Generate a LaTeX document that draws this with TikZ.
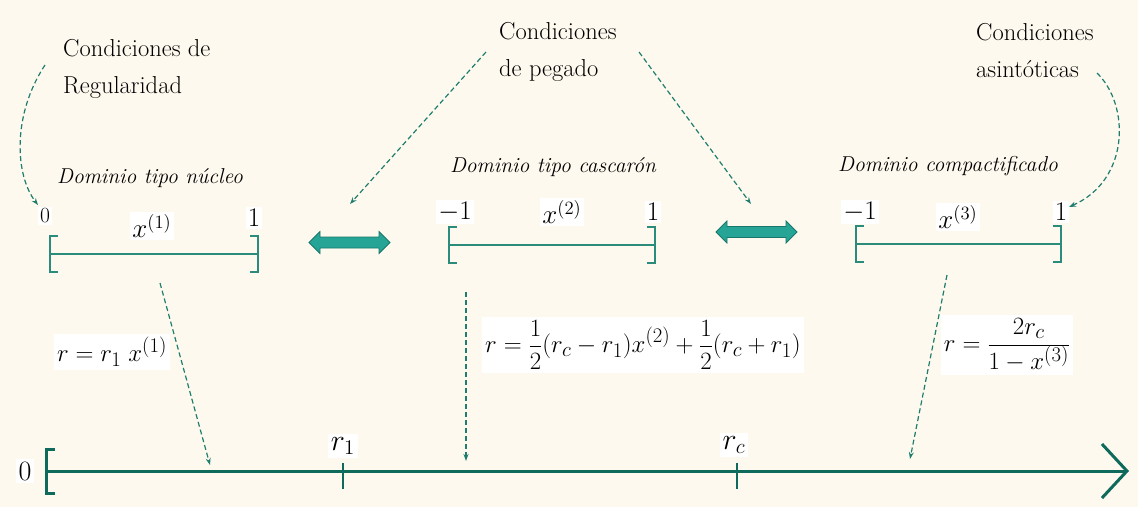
\documentclass[tikz,border=0pt]{standalone}
\usetikzlibrary{arrows.meta}
\definecolor{bgc}{HTML}{FEF9EE}
\definecolor{axisc}{HTML}{0E6B5C}
\definecolor{ivalc}{HTML}{2B8C7C}
\definecolor{dashc}{HTML}{1E7D6E}
\definecolor{dfillc}{HTML}{26A596}
\definecolor{dborderc}{HTML}{17776A}
\begin{document}
\begin{tikzpicture}[x=1pt,y=-1pt,
  mlab/.style={fill=white, inner sep=3pt, font=\fontsize{24.88}{29}\selectfont},
  tlab/.style={fill=white, inner sep=2pt, scale=1.45, font=\fontsize{20.74}{24}\selectfont},
  ilab/.style={fill=white, inner sep=1.6pt, scale=1.3, font=\fontsize{20.74}{24}\selectfont},
  cond/.style={align=left, inner sep=0pt, font=\fontsize{24.5}{37}\selectfont},
  dtitle/.style={inner sep=0pt, font=\fontsize{21.5}{25}\selectfont\itshape},
  ival/.style={draw=ivalc, line width=1.4pt},
  axisline/.style={draw=axisc, line width=3pt},
  dashar/.style={draw=dashc, line width=1.2pt, dash pattern=on 5pt off 3pt, -{Stealth[length=7pt,width=5pt]}},
  darrow/.style={draw=dborderc, fill=dfillc, line width=0.8pt}
]
\useasboundingbox (0,0) rectangle (1138,507);
\fill[bgc] (0,0) rectangle (1138,507);

% condition labels
\node[cond, anchor=west] (creg) at (63,69) {Condiciones de\\Regularidad};
\node[cond, anchor=west] (cpeg) at (499,52) {Condiciones\\de pegado};
\node[cond, anchor=west] (casi) at (976,51) {Condiciones\\asintóticas};

% titles
\node[dtitle] (t1) at (150,178) {Dominio tipo núcleo};
\node[dtitle] (t2) at (553,167) {Dominio tipo cascarón};
\node[dtitle] (t3) at (948,166) {Dominio compactificado};

% interval 1
\draw[ival] (58,236) -- (50,236) -- (50,272) -- (58,272);
\draw[ival] (50,254) -- (258,254);
\draw[ival] (250,236) -- (258,236) -- (258,272) -- (250,272);
\node[ilab, scale=0.8] (i1a) at (45,216) {$0$};
\node[ilab] (i1x) at (152,226) {$x^{(1)}$};
\node[ilab] (i1b) at (254,218) {$1$};

% interval 2
\draw[ival] (457,227) -- (449,227) -- (449,263) -- (457,263);
\draw[ival] (449,245) -- (655,245);
\draw[ival] (647,227) -- (655,227) -- (655,263) -- (647,263);
\node[ilab] (i2a) at (455,212) {$-1$};
\node[ilab] (i2x) at (562,212) {$x^{(2)}$};
\node[ilab] (i2b) at (653,212) {$1$};

% interval 3
\draw[ival] (864,226) -- (856,226) -- (856,262) -- (864,262);
\draw[ival] (856,244) -- (1061,244);
\draw[ival] (1053,226) -- (1061,226) -- (1061,262) -- (1053,262);
\node[ilab] (i3a) at (860,212) {$-1$};
\node[ilab] (i3x) at (958,217) {$x^{(3)}$};
\node[ilab] (i3b) at (1061,212) {$1$};

% double arrows
\coordinate (da1) at (349.5,242.5);
\coordinate (da2) at (756.5,232);
\draw[darrow] (da1) ++(-40.5,0) -- ++(11,-11) -- ++(0,5.5) -- ++(59,0) -- ++(0,-5.5) -- ++(11,11)
   -- ++(-11,11) -- ++(0,-5.5) -- ++(-59,0) -- ++(0,5.5) -- cycle;
\draw[darrow] (da2) ++(-40.5,0) -- ++(11,-11) -- ++(0,5.5) -- ++(59,0) -- ++(0,-5.5) -- ++(11,11)
   -- ++(-11,11) -- ++(0,-5.5) -- ++(-59,0) -- ++(0,5.5) -- cycle;

% formulas
\node[mlab] (f1) at (112,352) {$r=r_1\;x^{(1)}$};
\node[mlab] (f2) at (643,345) {$\displaystyle r=\frac{1}{2}(r_c-r_1)x^{(2)}+\frac{1}{2}(r_c+r_1)$};
\node[mlab] (f3) at (1007,345) {$\displaystyle r=\frac{2r_c}{1-x^{(3)}}$};

% axis
\coordinate (a0) at (46,471);
\coordinate (aend) at (1129,471);
\draw[axisline, -{Straight Barb[length=25pt,width=54pt]}] (a0) -- (aend);
\draw[axisline] (55,449) -- (46,449) -- (46,493) -- (55,493);
\node[tlab, scale=0.93] (zero) at (25,471) {$0$};
\coordinate (tk1) at (343,463);
\coordinate (tk1b) at (343,489);
\coordinate (tkc) at (737,463);
\coordinate (tkcb) at (737,489);
\draw[axisc, line width=2.4pt] (tk1) -- (tk1b);
\draw[axisc, line width=2.4pt] (tkc) -- (tkcb);
\node[tlab] (lr1) at (343,446) {$r_1$};
\node[tlab] (lrc) at (734,445) {$r_c$};

% dashed arrows
\coordinate (sa) at (45,65);   \coordinate (ea) at (38,205);
\coordinate (sb) at (486,52);  \coordinate (eb) at (350,204);
\coordinate (sc) at (639,52);  \coordinate (ec) at (751,204);
\coordinate (sd) at (1097,73); \coordinate (ed) at (1069,207);
\coordinate (se) at (160,283); \coordinate (ee) at (210,465);
\coordinate (sf) at (466,292); \coordinate (ef) at (466,461);
\coordinate (sg) at (947,275); \coordinate (eg) at (910,459);
\draw[dashar] (sa) .. controls (12,115) and (15,175) .. (ea);
\draw[dashar] (sb) -- (eb);
\draw[dashar] (sc) -- (ec);
\draw[dashar] (sd) .. controls (1130,105) and (1130,180) .. (ed);
\draw[dashar] (se) -- (ee);
\draw[dashar] (sf) -- (ef);
\draw[dashar] (sg) -- (eg);
\end{tikzpicture}
\end{document}
